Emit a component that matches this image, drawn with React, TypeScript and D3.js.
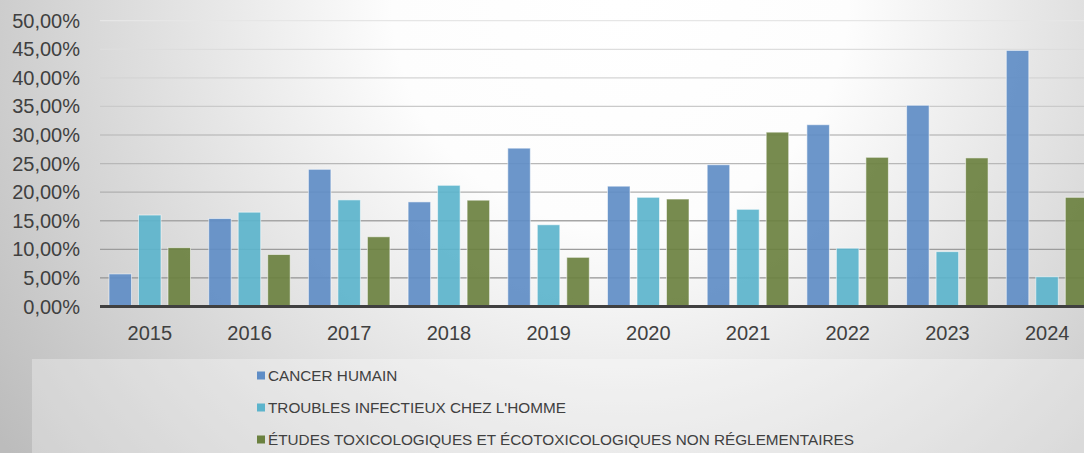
import * as d3 from 'd3';

const years = ['2015', '2016', '2017', '2018', '2019', '2020', '2021', '2022', '2023', '2024'];
const seriesNames = [
  'CANCER HUMAIN',
  "TROUBLES INFECTIEUX CHEZ L'HOMME",
  'ÉTUDES TOXICOLOGIQUES ET ÉCOTOXICOLOGIQUES NON RÉGLEMENTAIRES',
];
const cancer = [5.7, 15.4, 24.0, 18.3, 27.7, 21.05, 24.8, 31.8, 35.2, 44.8];
const infectieux = [16.0, 16.5, 18.65, 21.2, 14.3, 19.1, 17.0, 10.2, 9.6, 5.2];
const toxico = [10.3, 9.1, 12.2, 18.6, 8.6, 18.8, 30.5, 26.1, 26.0, 19.1];
const colors = ['#5f8dc6', '#5cb4cc', '#6b8140'];
const yTicks = [0, 5, 10, 15, 20, 25, 30, 35, 40, 45, 50];

const W = 1084;
const H = 453;

export default function App() {
  const series = [cancer, infectieux, toxico];
  const y = d3.scaleLinear().domain([0, 50]).range([306.5, 20.7]);
  const x = d3.scaleBand().domain(years).range([100, 100 + 99.7 * years.length]).padding(0);
  const inner = d3
    .scaleBand<number>()
    .domain([0, 1, 2])
    .range([9, 90.5])
    .paddingInner(0.237)
    .paddingOuter(0);
  const gridColor = d3.interpolateRgb('#8a8a8a', '#e6e6e6');
  const fmt = (v: number) => v.toFixed(2).replace('.', ',') + '%';
  const font = 'Liberation Sans, Arial, sans-serif';

  return (
    <svg
      width={W}
      height={H}
      style={{ position: 'absolute', left: 0, top: 0 }}
      fontFamily={font}
    >
      <defs>
        <radialGradient id="bg" gradientUnits="userSpaceOnUse" cx={620} cy={0} r={760}>
          <stop offset="0" stopColor="#ffffff" />
          <stop offset="0.3" stopColor="#fdfdfd" />
          <stop offset="1" stopColor="#bcbcbc" />
        </radialGradient>
      </defs>
      <rect x={0} y={0} width={W} height={H} fill="url(#bg)" />

      {/* gridlines */}
      {yTicks.slice(1).map((t) => (
        <line
          key={t}
          x1={100}
          x2={W}
          y1={y(t)}
          y2={y(t)}
          stroke={gridColor(t / 50)}
          strokeWidth={1.3}
        />
      ))}

      {/* y labels */}
      {yTicks.map((t) => (
        <text
          key={t}
          x={80}
          y={y(t)}
          dy="0.35em"
          textAnchor="end"
          fontSize={20}
          fill="#404040"
        >
          {fmt(t)}
        </text>
      ))}

      {/* bars */}
      {years.map((yr, i) => (
        <g key={yr} transform={`translate(${x(yr)},0)`}>
          {series.map((s, k) => (
            <rect
              key={k}
              x={inner(k)}
              y={y(s[i])}
              width={inner.bandwidth()}
              height={y(0) - y(s[i])}
              fill={colors[k]}
              fillOpacity={0.92}
              stroke="#ffffff"
              strokeOpacity={0.55}
              strokeWidth={1}
            />
          ))}
        </g>
      ))}

      {/* axis line */}
      <line x1={100} x2={W} y1={y(0)} y2={y(0)} stroke="#404040" strokeWidth={3} />

      {/* x labels */}
      {years.map((yr) => (
        <text
          key={yr}
          x={(x(yr) as number) + x.bandwidth() / 2}
          y={340}
          textAnchor="middle"
          fontSize={20}
          fill="#404040"
        >
          {yr}
        </text>
      ))}

      {/* legend */}
      <rect x={32} y={359} width={W - 32} height={H - 359} fill="#ffffff" fillOpacity={0.3} />
      {seriesNames.map((name, k) => (
        <g key={name} transform={`translate(0,${375.5 + k * 32})`}>
          <rect x={257} y={-4} width={8} height={8} fill={colors[k]} />
          <text x={268} y={0} dy="0.36em" fontSize={15.3} fill="#404040">
            {name}
          </text>
        </g>
      ))}
    </svg>
  );
}
